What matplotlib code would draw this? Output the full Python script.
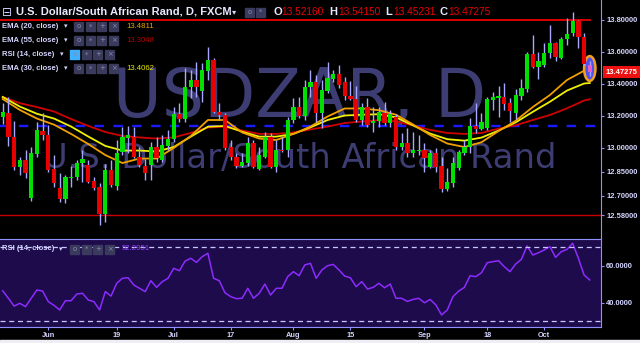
import numpy as np
import matplotlib.pyplot as plt
from matplotlib.patches import Rectangle, Ellipse
from matplotlib.transforms import blended_transform_factory

# USD/ZAR daily candles, 22 May - 12 Oct 2017
opens = [13.194, 13.220, 13.067, 12.883, 12.925, 12.690, 12.962, 13.108, 13.081, 12.867,
         12.752, 12.679, 12.810, 12.817, 12.904, 12.892, 12.796, 12.754, 12.587, 12.862,
         12.762, 12.977, 13.061, 13.071, 12.946, 12.887, 12.894, 13.008, 12.925, 13.012,
         13.054, 13.212, 13.179, 13.379, 13.425, 13.358, 13.483, 13.550, 13.227, 13.206,
         13.008, 12.942, 12.890, 12.904, 13.029, 12.867, 12.946, 13.071, 12.883, 12.990,
         12.987, 13.175, 13.254, 13.200, 13.379, 13.411, 13.221, 13.358, 13.431, 13.462,
         13.414, 13.325, 13.304, 13.175, 13.258, 13.154, 13.171, 13.221, 13.158, 13.192,
         13.008, 13.033, 12.967, 12.980, 12.987, 12.884, 12.967, 12.887, 12.742, 12.783,
         12.873, 12.971, 13.004, 13.137, 13.117, 13.123, 13.300, 13.314, 13.321, 13.279,
         13.217, 13.325, 13.367, 13.587, 13.508, 13.519, 13.592, 13.654, 13.560, 13.679,
         13.721, 13.796, 13.692, 13.5216]
highs = [13.281, 13.319, 13.169, 12.942, 12.987, 13.008, 13.164, 13.217, 13.144, 12.956,
         12.842, 12.831, 12.887, 12.925, 12.987, 12.925, 12.821, 12.779, 12.900, 12.925,
         13.050, 13.133, 13.138, 13.133, 13.008, 12.929, 13.040, 13.071, 13.081, 13.112,
         13.258, 13.279, 13.498, 13.487, 13.539, 13.529, 13.633, 13.560, 13.279, 13.217,
         13.050, 12.971, 12.967, 13.071, 13.050, 13.008, 13.102, 13.096, 13.050, 13.071,
         13.196, 13.311, 13.321, 13.425, 13.487, 13.456, 13.425, 13.539, 13.487, 13.519,
         13.446, 13.421, 13.387, 13.279, 13.310, 13.258, 13.258, 13.289, 13.237, 13.212,
         13.092, 13.123, 13.102, 13.081, 13.029, 12.987, 12.998, 12.946, 12.873, 12.946,
         12.987, 13.050, 13.185, 13.279, 13.221, 13.321, 13.352, 13.387, 13.404, 13.310,
         13.367, 13.429, 13.602, 13.706, 13.602, 13.658, 13.769, 13.664, 13.696, 13.811,
         13.852, 13.800, 13.717, 13.5415]
lows = [13.150, 13.013, 12.862, 12.831, 12.812, 12.671, 12.946, 13.050, 12.852, 12.758,
        12.664, 12.658, 12.758, 12.800, 12.790, 12.779, 12.737, 12.519, 12.540, 12.758,
        12.737, 12.956, 12.967, 12.936, 12.883, 12.800, 12.800, 12.914, 12.914, 12.987,
        13.040, 13.164, 13.164, 13.311, 13.321, 13.289, 13.425, 13.217, 13.175, 12.987,
        12.925, 12.873, 12.883, 12.890, 12.873, 12.862, 12.936, 12.873, 12.852, 12.975,
        12.946, 13.154, 13.185, 13.175, 13.321, 13.164, 13.123, 13.342, 13.414, 13.373,
        13.300, 13.300, 13.164, 13.144, 13.133, 13.102, 13.133, 13.144, 13.133, 12.987,
        12.987, 12.946, 12.946, 12.956, 12.852, 12.873, 12.852, 12.727, 12.733, 12.758,
        12.862, 12.956, 12.967, 13.096, 13.112, 13.112, 13.237, 13.196, 13.237, 13.164,
        13.179, 13.300, 13.352, 13.498, 13.429, 13.508, 13.560, 13.546, 13.554, 13.644,
        13.700, 13.623, 13.519, 13.45231]
closes = [13.225, 13.069, 12.883, 12.925, 12.846, 12.967, 13.112, 13.081, 12.862, 12.779,
          12.679, 12.817, 12.820, 12.908, 12.929, 12.790, 12.748, 12.587, 12.862, 12.769,
          12.971, 13.071, 13.081, 12.946, 12.894, 12.842, 13.008, 12.936, 13.019, 13.054,
          13.212, 13.179, 13.379, 13.425, 13.379, 13.487, 13.550, 13.227, 13.206, 12.998,
          12.946, 12.890, 12.915, 13.029, 12.883, 12.954, 13.071, 12.883, 12.987, 12.980,
          13.175, 13.254, 13.200, 13.379, 13.411, 13.221, 13.362, 13.436, 13.462, 13.394,
          13.325, 13.304, 13.175, 13.258, 13.144, 13.170, 13.227, 13.154, 13.212, 13.004,
          13.033, 12.967, 12.987, 12.990, 12.936, 12.967, 12.883, 12.742, 12.790, 12.904,
          12.977, 13.004, 13.137, 13.120, 13.164, 13.304, 13.321, 13.325, 13.275, 13.233,
          13.331, 13.373, 13.587, 13.508, 13.546, 13.596, 13.654, 13.567, 13.679, 13.712,
          13.796, 13.692, 13.525, 13.47275]

# EMA values read every third bar
ema_idx = [0, 3, 6, 9, 12, 15, 18, 21, 24, 27, 30, 33, 36, 39, 42, 45, 48, 51,
           54, 57, 60, 63, 66, 69, 72, 75, 78, 81, 84, 87, 90, 93, 96, 99, 102, 103]
ema20 = [13.306, 13.238, 13.184, 13.146, 13.088, 13.025, 12.956, 12.906, 12.934, 12.934,
         13.000, 13.075, 13.175, 13.175, 13.097, 13.059, 13.050, 13.088, 13.134, 13.197,
         13.247, 13.247, 13.236, 13.208, 13.147, 13.081, 13.028, 13.006, 13.036, 13.106,
         13.170, 13.256, 13.331, 13.425, 13.483, 13.4811]
ema30 = [13.319, 13.259, 13.214, 13.184, 13.134, 13.072, 13.013, 12.984, 12.984, 12.978,
         13.006, 13.071, 13.133, 13.138, 13.102, 13.071, 13.071, 13.088, 13.129, 13.175,
         13.203, 13.208, 13.211, 13.192, 13.141, 13.090, 13.055, 13.046, 13.065, 13.109,
         13.160, 13.226, 13.289, 13.359, 13.403, 13.4062]
ema55 = [13.319, 13.280, 13.256, 13.228, 13.181, 13.138, 13.100, 13.075, 13.066, 13.059,
         13.066, 13.094, 13.128, 13.133, 13.109, 13.088, 13.088, 13.097, 13.116, 13.134,
         13.156, 13.166, 13.173, 13.167, 13.141, 13.113, 13.094, 13.088, 13.094, 13.121,
         13.142, 13.175, 13.206, 13.248, 13.297, 13.3048]

rsi = [46.5, 42.4, 38.2, 39.7, 37.9, 42.4, 46.9, 46.3, 40.6, 38.6,
       36.1, 41.1, 41.1, 44.7, 45.1, 41.5, 40.6, 36.1, 46.0, 43.6,
       50.5, 53.2, 53.5, 49.6, 47.8, 46.0, 51.9, 48.3, 51.4, 53.2,
       58.6, 57.3, 62.5, 64.0, 61.8, 64.9, 66.7, 53.2, 51.9, 45.4,
       43.3, 42.2, 42.4, 47.8, 42.4, 45.1, 50.1, 44.2, 47.8, 47.8,
       54.1, 56.8, 54.6, 60.4, 61.3, 53.2, 57.7, 60.0, 60.7, 57.7,
       54.4, 53.5, 48.7, 51.4, 47.4, 48.3, 50.5, 48.1, 50.1, 42.4,
       42.4, 40.7, 41.8, 42.4, 40.0, 41.8, 38.8, 33.4, 36.1, 43.3,
       46.3, 48.3, 54.6, 54.1, 56.2, 61.6, 62.2, 62.7, 59.5, 56.8,
       60.9, 63.4, 70.7, 65.8, 67.0, 68.5, 70.3, 64.5, 67.6, 68.8,
       72.1, 64.0, 55.0, 52.2951]

tick_pos = [8, 20, 30, 40, 51, 61, 74, 85, 95]
tick_lab = ['Jun', '19', 'Jul', '17', 'Aug', '15', 'Sep', '18', 'Oct']
price_ticks = [13.8, 13.6, 13.4, 13.2, 13.0, 12.85, 12.7, 12.58]
rsi_ticks = [60, 40]
resistance = 13.80
support = 12.58
pivot = 13.135

W, H = 640, 343
LAV = '#9090ff'
TXT = '#d4d4ff'


def fx(x):
    return x / W


def fy(y):
    return 1 - y / H


fig = plt.figure(figsize=(6.4, 3.43), dpi=100, facecolor='black')
ax = fig.add_axes([0, fy(237.5), fx(601), 237.5 / H], facecolor='black')
ax2 = fig.add_axes([0, fy(327), fx(601), (327 - 238.5) / H], facecolor='#1e0b4b', sharex=ax)

idx = np.arange(len(closes))
o = np.array(opens)
c = np.array(closes)
cols = np.where(c >= o, '#00e000', '#e80000').astype(object)
cols[-1] = '#e060c8'

# candles
ax.vlines(idx, lows, highs, color='#a8a8ff', lw=1, zorder=3)
ax.bar(idx, np.maximum(np.abs(c - o), 0.004), bottom=np.minimum(o, c), width=0.75,
       color=list(cols), lw=0, zorder=4)
ax.add_patch(Ellipse((idx[-1], (highs[-1] + lows[-1]) / 2), 2.0, 0.155, fc='#5050ee',
                     ec='#f0a020', lw=1.8, zorder=2.8))

# EMAs and levels
ax.plot(ema_idx, ema55, color='#d00000', lw=1.3, zorder=2.5)
ax.plot(ema_idx, ema30, color='#f0f000', lw=1.3, zorder=2.5)
ax.plot(ema_idx, ema20, color='#f0a000', lw=1.3, zorder=2.5)
ax.plot([-1, idx[-1]], [resistance, resistance], color='#ff0000', lw=1.2, zorder=2)
ax.axhline(support, color='#c80000', lw=1.0, zorder=2)
ax.axhline(pivot, color='#1a1aff', lw=1.7, dashes=(4, 4), zorder=2)

# watermark
ax.text(fx(300) / fx(601), 1 - 117 / 237.5, 'USDZAR, D', transform=ax.transAxes,
        ha='center', va='baseline', fontsize=48, color='#3d3d73', zorder=1)
ax.text(fx(300) / fx(601), 1 - 168 / 237.5, 'U.S. Dollar/South African Rand', transform=ax.transAxes,
        ha='center', va='baseline', fontsize=24.3, color='#3d3d73', zorder=1)

ax.set_xlim(-0.474, 104.97)
ax.set_ylim(13.925 - 237.5 / 160, 13.925)
ax.yaxis.tick_right()
ax.set_yticks(price_ticks)
ax.set_yticklabels([f'{v:.5f}' for v in price_ticks], fontfamily='Liberation Sans',
                   fontweight='bold', fontsize=5.4, color=TXT)
ax.tick_params(axis='y', length=2.2, width=0.8, color=LAV, pad=2)
ax.tick_params(axis='x', bottom=False, labelbottom=False)
for s in ['left', 'top', 'bottom']:
    ax.spines[s].set_visible(False)
ax.spines['right'].set_color(LAV)

# current price tag
tr = blended_transform_factory(ax.transAxes, ax.transData)
ax.text(1.008, closes[-1], f'{closes[-1]:.5f}', transform=tr, va='center', ha='left',
        fontfamily='Liberation Sans', fontweight='bold', fontsize=5.4, color='white',
        bbox=dict(boxstyle='square,pad=0.35', fc='#ee1111', ec='none'), clip_on=False)

# RSI panel
ax2.plot(idx, rsi, color='#8c2bff', lw=1.1)
ax2.axhline(70, color='#c8c8ff', lw=0.9, dashes=(4, 3))
ax2.axhline(30, color='#c8c8ff', lw=0.9, dashes=(4, 3))
ax2.set_ylim(26.9, 74.7)
ax2.yaxis.tick_right()
ax2.set_yticks(rsi_ticks)
ax2.set_yticklabels([f'{v:.4f}' for v in rsi_ticks], fontfamily='Liberation Sans',
                    fontweight='bold', fontsize=5.4, color=TXT)
ax2.set_xticks(tick_pos)
ax2.set_xticklabels(tick_lab, fontfamily='Liberation Sans', fontweight='bold',
                    fontsize=5.3, color=TXT)
ax2.tick_params(axis='both', length=2.2, width=0.8, color=LAV, pad=1.5)
ax2.spines['left'].set_visible(False)
for s in ['top', 'bottom', 'right']:
    ax2.spines[s].set_color(LAV)

fig.patches.append(Rectangle((0, 0), 1, 3 / H, transform=fig.transFigure, color='#eeeef4'))


def icons(x0, yc, n, step, first=None):
    syms = ['o', '*', '+', '\u00d7']
    for k in range(n):
        fc = first if (k == 0 and first) else '#3a3a5c'
        fig.patches.append(Rectangle((fx(x0 + k * step), fy(yc + 4.5)), 9 / W, 9 / H,
                                     transform=fig.transFigure, color=fc))
        fig.text(fx(x0 + k * step + 4.5), fy(yc), syms[k], ha='center', va='center',
                 fontsize=5, color='#8a8ab0')


# title row
fig.text(fx(2), fy(12), '\u229f', fontsize=8.5, color=TXT, va='center')
fig.text(fx(16), fy(12), 'U.S. Dollar/South African Rand, D, FXCM', fontfamily='Liberation Sans',
         fontweight='bold', fontsize=8, color='#e8e8ff', va='center')
fig.text(fx(232), fy(12), '\u25be', fontsize=6, color=TXT, va='center')
icons(245, 12, 2, 11)
for lx, vx, lab, val in [(273, 281, 'O', opens[-1]), (329, 338, 'H', highs[-1]),
                         (385, 393, 'L', lows[-1]), (440, 448, 'C', closes[-1])]:
    fig.text(fx(lx), fy(12), lab, fontfamily='Liberation Sans', fontweight='bold',
             fontsize=8, color='#e8e8ff', va='center')
    fig.text(fx(vx), fy(12), f'{val:.5f}', fontfamily='Liberation Sans',
             fontsize=7.3, color='#e80000', va='center')

# indicator legend rows
rows = [(26.5, 'EMA (20, close)', f'{ema20[-1]:.4f}', '#e8a000', 74, None),
        (40.5, 'EMA (55, close)', f'{ema55[-1]:.4f}', '#b40000', 74, None),
        (54.3, 'RSI (14, close)', '', TXT, 70, '#40b0ff'),
        (68.5, 'EMA (30, close)', f'{ema30[-1]:.4f}', '#e8e800', 74, None)]
for yc, lab, val, vc, ix, first in rows:
    fig.text(fx(2), fy(yc), lab, fontfamily='Liberation Sans', fontweight='bold',
             fontsize=5.5, color=TXT, va='center')
    fig.text(fx(ix - 10), fy(yc), '\u25be', fontsize=5, color=TXT, va='center')
    icons(ix, yc, 4, 11.7, first)
    fig.text(fx(126), fy(yc), val, fontfamily='Liberation Sans', fontsize=5.6,
             color=vc, va='center')

fig.text(fx(2), fy(249), 'RSI (14, close)', fontfamily='Liberation Sans', fontweight='bold',
         fontsize=5.5, color=TXT, va='center')
fig.text(fx(59), fy(249), '\u25be', fontsize=5, color=TXT, va='center')
icons(70, 249, 4, 11.7, None)
fig.text(fx(122), fy(249), f'{rsi[-1]:.4f}', fontfamily='Liberation Sans', fontsize=5.6,
         color='#9040ff', va='center')

fig.savefig('out.png', dpi=100, facecolor='black')
